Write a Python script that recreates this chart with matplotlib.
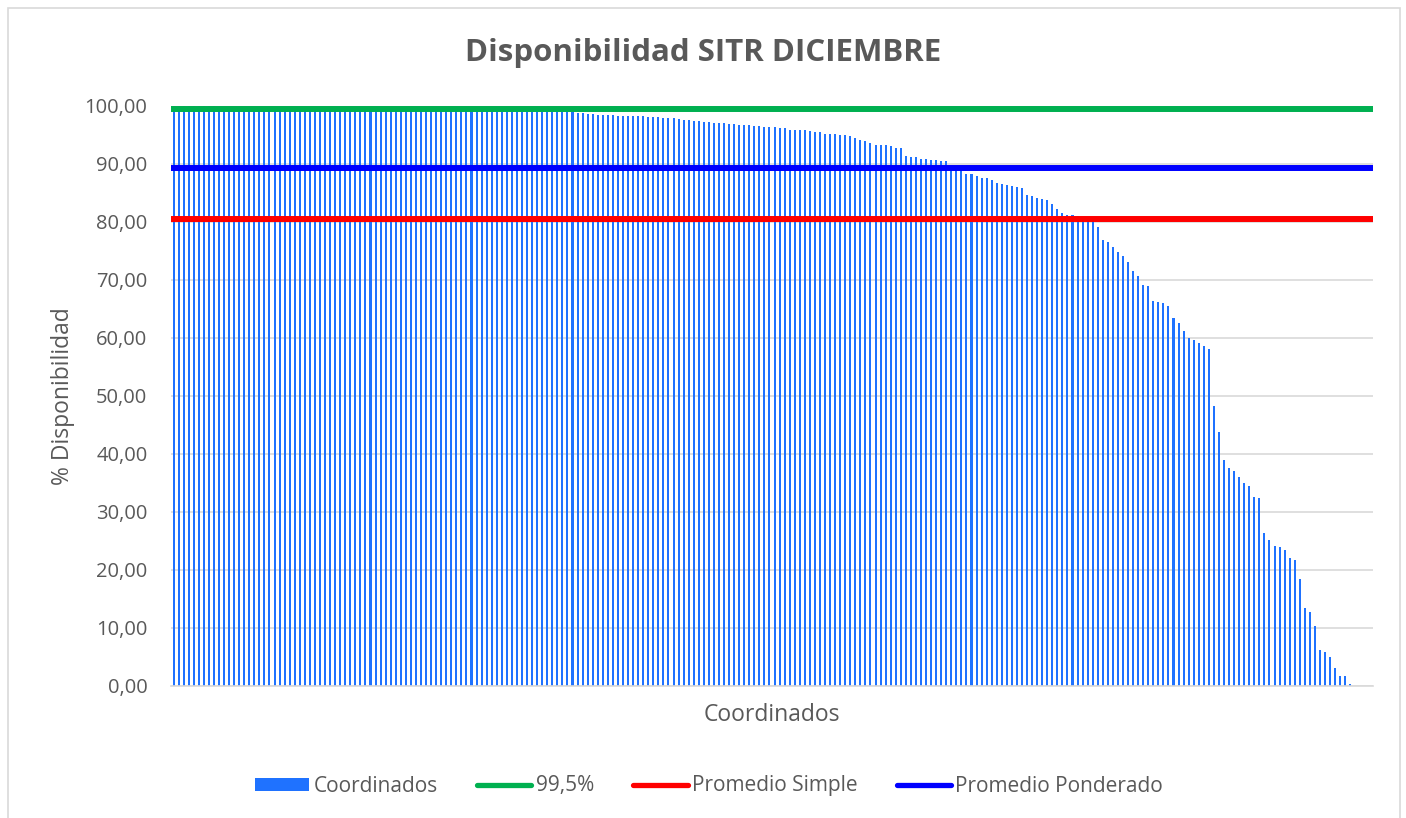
import matplotlib.pyplot as plt
import numpy as np
from matplotlib.lines import Line2D
from matplotlib.patches import Patch, Rectangle

# % disponibilidad por coordinado (ordenado de mayor a menor)
disponibilidad = [
    100.0, 100.0, 100.0, 100.0, 100.0, 100.0,
    99.95, 99.93, 99.92, 99.90, 99.90, 99.88, 99.87, 99.85, 99.85, 99.83,
    99.82, 99.80, 99.80, 99.78, 99.77,
    99.75, 99.74, 99.72, 99.70, 99.70, 99.68, 99.66, 99.65, 99.63, 99.61,
    99.60, 99.58, 99.56, 99.55, 99.53, 99.51, 99.50, 99.48, 99.46, 99.45,
    99.43, 99.41, 99.40, 99.38, 99.36, 99.35, 99.33, 99.31, 99.30, 99.28,
    99.26, 99.25, 99.23, 99.21, 99.20, 99.18, 99.16, 99.15, 99.13, 99.11,
    99.10, 99.08, 99.06, 99.05, 99.03, 99.01, 99.00, 98.98, 98.97, 98.96,
    98.95, 98.94, 98.93, 98.92, 98.92, 98.91, 98.91, 98.90, 98.90,
    98.85, 98.75, 98.70, 98.60, 98.50,
    98.45, 98.45, 98.39, 98.33, 98.28, 98.28, 98.28, 98.28, 98.28, 98.16,
    98.10, 98.05, 97.93, 97.87, 97.87, 97.76, 97.64, 97.59, 97.47, 97.41,
    97.24, 97.18, 97.07, 97.01, 97.01, 96.95, 96.90, 96.78, 96.72, 96.67,
    96.61, 96.49, 96.44, 96.38, 96.32, 96.26, 96.26, 95.92, 95.86, 95.86,
    95.80, 95.63, 95.57, 95.52, 95.17, 95.17, 95.11, 95.06, 94.94, 94.80,
    94.48, 94.14, 93.91, 93.56, 93.33, 93.28, 93.22, 93.05, 92.70, 92.70,
    91.38, 91.26, 91.26, 90.80, 90.80, 90.69, 90.63, 90.57, 90.52, 89.70,
    89.40, 89.00, 88.28, 88.22, 87.99, 87.53, 87.53, 87.18, 86.72, 86.55,
    86.38, 86.15, 85.98, 85.92, 84.66, 84.54, 84.08, 84.02, 83.79, 83.10,
    82.18, 81.50, 81.26, 81.15, 80.98, 80.70, 80.40, 80.10, 79.08,
    76.90, 76.55, 75.63, 74.77, 74.14, 73.16, 71.55, 70.63, 69.14, 68.97,
    66.38, 66.15, 66.03, 65.46, 63.50, 62.53, 61.15, 59.94, 59.71, 59.08,
    58.57, 58.16,
    48.20, 43.80, 38.90, 37.64, 37.00, 36.03, 35.00, 34.54, 32.59, 32.35,
    26.44, 25.17, 24.08, 24.02, 23.50, 22.00, 21.78, 18.39, 13.45, 12.70,
    10.34, 6.15, 5.80, 4.94, 3.05, 1.72, 1.66, 0.40,
    0.0, 0.0, 0.0, 0.0,
]
meta = 99.5
promedio_simple = 80.6
promedio_ponderado = 89.3

yticks = [0, 10, 20, 30, 40, 50, 60, 70, 80, 90, 100]
ytick_labels = [f"{v:.2f}".replace(".", ",") for v in yticks]

W, H = 1406, 818
fig = plt.figure(figsize=(W / 100, H / 100), dpi=100)
plt.rcParams["font.family"] = ["Open Sans", "DejaVu Sans"]

text_color = "#595959"
grid_color = "#d9d9d9"
bar_color = "#1F72FF"

# chart border
fig.add_artist(Rectangle((8 / W, -0.02), (1400 - 8) / W, 1 - 8 / H + 0.02,
                         transform=fig.transFigure, fill=False,
                         edgecolor="#d9d9d9", linewidth=1.2))

ax = fig.add_axes([171 / W, 1 - 686 / H, (1373 - 171) / W, (686 - 106) / H])

x = np.arange(len(disponibilidad))
ax.bar(x, disponibilidad, width=0.4, color=bar_color, zorder=2)
ax.axhline(meta, color="#00B050", linewidth=4.3, zorder=3)
ax.axhline(promedio_simple, color="#FF0000", linewidth=4.3, zorder=3)
ax.axhline(promedio_ponderado, color="#0000FF", linewidth=4.3, zorder=3)

ax.set_xlim(-0.5, len(disponibilidad) - 0.5)
ax.set_ylim(0, 100)
ax.set_yticks(yticks)
ax.set_yticklabels(ytick_labels, fontsize=14.5, color=text_color)
ax.set_xticks([])
ax.tick_params(axis="y", length=0, pad=17)
ax.grid(axis="y", color=grid_color, linewidth=1.2, zorder=0)
ax.set_axisbelow(True)
for side in ["top", "right", "left"]:
    ax.spines[side].set_visible(False)
ax.spines["bottom"].set_color(grid_color)
ax.spines["bottom"].set_linewidth(1.2)

ax.set_ylabel("% Disponibilidad", fontsize=16.5, color=text_color, labelpad=7)
ax.set_xlabel("Coordinados", fontsize=16.5, color=text_color, labelpad=12)
fig.text(0.5, 1 - 53 / H, "Disponibilidad SITR DICIEMBRE", ha="center",
         va="center", fontsize=22.5, fontweight="bold", color=text_color)

handles = [
    Patch(facecolor=bar_color, edgecolor="none"),
    Line2D([0], [0], color="#00B050", linewidth=3.8, solid_capstyle="round"),
    Line2D([0], [0], color="#FF0000", linewidth=3.8, solid_capstyle="round"),
    Line2D([0], [0], color="#0000FF", linewidth=3.8, solid_capstyle="round"),
]
labels = ["Coordinados", "99,5%", "Promedio Simple", "Promedio Ponderado"]
leg = fig.legend(handles, labels, loc="center", bbox_to_anchor=(709 / W, 1 - 786 / H),
                 ncol=4, frameon=False, fontsize=15, handlelength=2.6,
                 handleheight=0.6, handletextpad=0.2, columnspacing=1.9)
for t in leg.get_texts():
    t.set_color(text_color)

fig.savefig("out.png", dpi=100)
